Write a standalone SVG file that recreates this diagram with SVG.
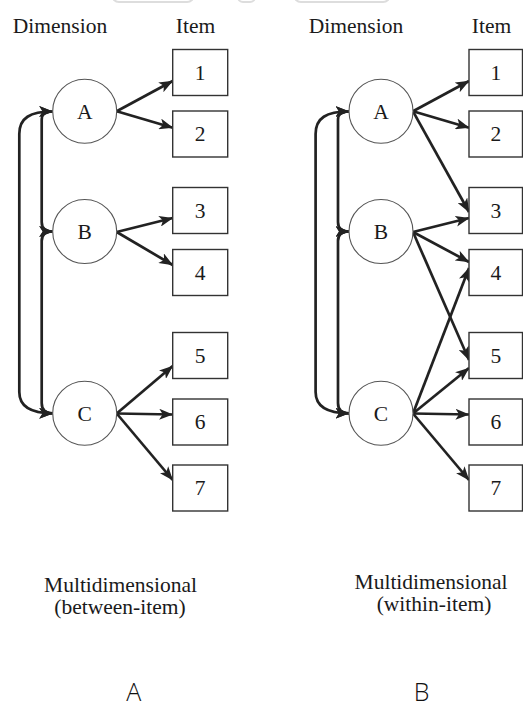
<svg xmlns="http://www.w3.org/2000/svg" width="523" height="709" viewBox="0 0 523 709">
<style>
  .t{font-family:"Liberation Serif","Times New Roman",serif;font-size:21.5px;fill:#1a1a1a;text-anchor:middle}
  .cap{font-family:"Liberation Serif","Times New Roman",serif;font-size:21.5px;fill:#1a1a1a;text-anchor:middle}
  .big{font-family:"Open Sans","Noto Sans",sans-serif;font-weight:300;font-size:25px;fill:#111;text-anchor:middle}
  .dim circle{fill:#fff;stroke:#555;stroke-width:1.1}
  .item rect{fill:#fff;stroke:#333;stroke-width:1.4}
  .c path{fill:none;stroke:#222;stroke-width:2.7;marker-end:url(#ah)}
  .c path.bi{marker-start:url(#ah)}
  .ghost{fill:none;stroke:#ddd;stroke-width:2}
</style>
<defs>
  <marker id="ah" viewBox="0 0 14 11" refX="13.5" refY="5.5" markerWidth="14" markerHeight="11" markerUnits="userSpaceOnUse" orient="auto-start-reverse">
    <path d="M0,0 L14,5.5 L0,11 L3.5,5.5 Z" fill="#222"/>
  </marker>
</defs>
<rect width="523" height="709" fill="#fff"/>
<g id="top-remnants">
  <rect class="ghost" x="112" y="-12" width="82" height="14" rx="7"/>
  <rect class="ghost" x="238" y="-12" width="17" height="14" rx="5"/>
  <rect class="ghost" x="294" y="-12" width="96" height="14" rx="7"/>
</g>
<g id="headers">
  <text class="t" x="60" y="33">Dimension</text>
  <text class="t" x="195.5" y="33">Item</text>
  <text class="t" x="356" y="33">Dimension</text>
  <text class="t" x="491.5" y="33">Item</text>
</g>
<g id="connectors" class="c">
  <path class="bi" d="M52.7,111.5 C30,111.5 19.3,118 19.3,134 L19.3,392 C19.3,406 30,413.3 52.7,413.3"/>
  <path class="bi" d="M52.7,111.5 C45,111.5 41.7,114 41.7,120 L41.7,222 C41.7,228 45,231.5 52.7,231.5"/>
  <path class="bi" d="M52.7,231.5 C45,231.5 41.7,235 41.7,241 L41.7,403 C41.7,409 45,413.3 52.7,413.3"/>
  <path d="M116.7,111.3 L172.7,81"/>
  <path d="M116.7,111.3 L172.7,127.7"/>
  <path d="M116.7,232 L172.7,218"/>
  <path d="M116.7,232 L172.7,265"/>
  <path d="M116.7,413.5 L172.7,366"/>
  <path d="M116.7,413.5 L172.7,414.5"/>
  <path d="M116.7,413.5 L172.7,480"/>
  <path class="bi" d="M349,111.5 C326.3,111.5 315.6,118 315.6,134 L315.6,392 C315.6,406 326.3,413.3 349,413.3"/>
  <path class="bi" d="M349,111.5 C341.3,111.5 338,114 338,120 L338,222 C338,228 341.3,231.5 349,231.5"/>
  <path class="bi" d="M349,231.5 C341.3,231.5 338,235 338,241 L338,403 C338,409 341.3,413.3 349,413.3"/>
  <path d="M413,111.3 L469,81"/>
  <path d="M413,111.3 L469,127.7"/>
  <path d="M413,111.3 L469,212"/>
  <path d="M413,232 L469,218"/>
  <path d="M413,232 L469,262"/>
  <path d="M413,232 L469,360"/>
  <path d="M413,413.5 L469,268"/>
  <path d="M413,413.5 L469,368"/>
  <path d="M413,413.5 L469,414.5"/>
  <path d="M413,413.5 L469,480"/>
</g>
<g id="left-A" class="dim"><circle cx="84.7" cy="111.3" r="32"/><text class="t" x="84.7" y="118.5">A</text></g>
<g id="left-B" class="dim"><circle cx="84.7" cy="231.5" r="32"/><text class="t" x="84.7" y="238.7">B</text></g>
<g id="left-C" class="dim"><circle cx="84.7" cy="413.3" r="32"/><text class="t" x="84.7" y="420.5">C</text></g>
<g id="right-A" class="dim"><circle cx="381" cy="111.3" r="32"/><text class="t" x="381" y="118.5">A</text></g>
<g id="right-B" class="dim"><circle cx="381" cy="231.5" r="32"/><text class="t" x="381" y="238.7">B</text></g>
<g id="right-C" class="dim"><circle cx="381" cy="413.3" r="32"/><text class="t" x="381" y="420.5">C</text></g>

<g id="left-item1" class="item"><rect x="172.7" y="49.5" width="55" height="46"/><text class="t" x="200.2" y="79.5">1</text></g>
<g id="left-item2" class="item"><rect x="172.7" y="111" width="55" height="46"/><text class="t" x="200.2" y="141">2</text></g>
<g id="left-item3" class="item"><rect x="172.7" y="187.5" width="55" height="46"/><text class="t" x="200.2" y="217.5">3</text></g>
<g id="left-item4" class="item"><rect x="172.7" y="249.5" width="55" height="46"/><text class="t" x="200.2" y="279.5">4</text></g>
<g id="left-item5" class="item"><rect x="172.7" y="332.5" width="55" height="46"/><text class="t" x="200.2" y="362.5">5</text></g>
<g id="left-item6" class="item"><rect x="172.7" y="399" width="55" height="46"/><text class="t" x="200.2" y="429">6</text></g>
<g id="left-item7" class="item"><rect x="172.7" y="465" width="55" height="46"/><text class="t" x="200.2" y="495">7</text></g>

<g id="right-item1" class="item"><rect x="469" y="49.5" width="53.5" height="46"/><text class="t" x="495.8" y="79.5">1</text></g>
<g id="right-item2" class="item"><rect x="469" y="111" width="53.5" height="46"/><text class="t" x="495.8" y="141">2</text></g>
<g id="right-item3" class="item"><rect x="469" y="187.5" width="53.5" height="46"/><text class="t" x="495.8" y="217.5">3</text></g>
<g id="right-item4" class="item"><rect x="469" y="249.5" width="53.5" height="46"/><text class="t" x="495.8" y="279.5">4</text></g>
<g id="right-item5" class="item"><rect x="469" y="332.5" width="53.5" height="46"/><text class="t" x="495.8" y="362.5">5</text></g>
<g id="right-item6" class="item"><rect x="469" y="399" width="53.5" height="46"/><text class="t" x="495.8" y="429">6</text></g>
<g id="right-item7" class="item"><rect x="469" y="465" width="53.5" height="46"/><text class="t" x="495.8" y="495">7</text></g>

<g id="captions">
  <text class="cap" x="120.5" y="592">Multidimensional</text>
  <text class="cap" x="120" y="614">(between-item)</text>
  <text class="cap" x="431" y="589">Multidimensional</text>
  <text class="cap" x="434" y="611">(within-item)</text>
  <text class="big" x="133.8" y="701">A</text>
  <text class="big" x="421.7" y="701">B</text>
</g>
</svg>
